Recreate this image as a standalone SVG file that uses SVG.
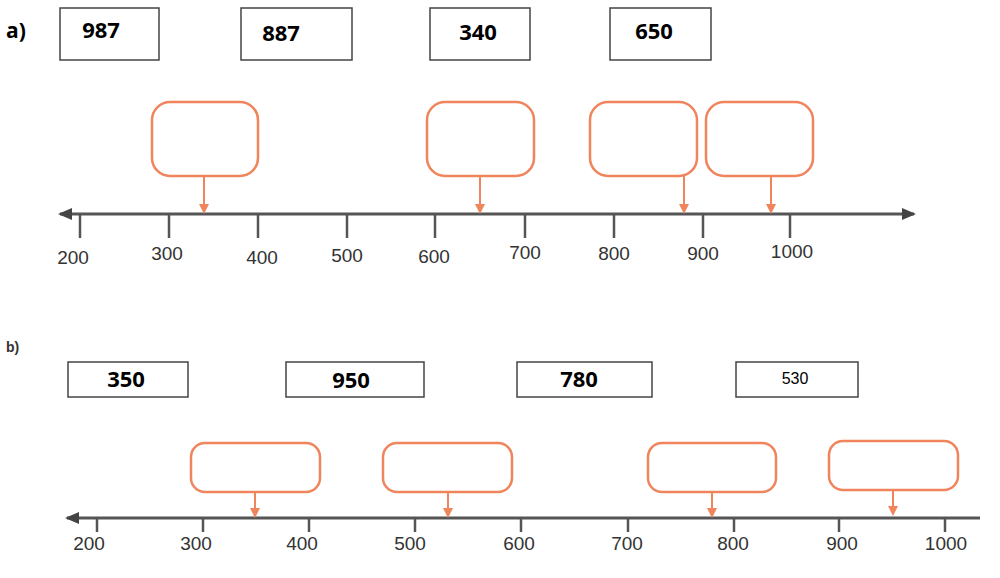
<svg xmlns="http://www.w3.org/2000/svg" width="1000" height="578" viewBox="0 0 1000 578">
<defs>
<style>
.ans{fill:#fff;stroke:#444;stroke-width:1.5}
.at{font-family:"Open Sans","Liberation Sans",sans-serif;font-weight:bold;font-size:22px;fill:#000;text-anchor:middle}
.co{fill:#fff;stroke:#f0845c;stroke-width:2.5}
.ar{stroke:#f0845c;stroke-width:2;marker-end:url(#oa)}
.ax{stroke:#555;stroke-width:3}
.tk{stroke:#555;stroke-width:2.5}
.nl{font-family:"Liberation Sans",sans-serif;font-size:19px;fill:#333;text-anchor:middle}
.lb{font-family:"Open Sans","Liberation Sans",sans-serif;font-weight:bold;font-size:21px;fill:#000}
</style>
<marker id="oa" markerWidth="10" markerHeight="10" refX="8" refY="5" orient="auto" markerUnits="userSpaceOnUse"><path d="M0,0 L10,5 L0,10 z" fill="#f0845c"/></marker>
<marker id="ga" markerWidth="14" markerHeight="12" refX="12" refY="6" orient="auto-start-reverse" markerUnits="userSpaceOnUse"><path d="M0,0 L14,6 L0,12 z" fill="#444"/></marker>
</defs>
<rect width="1000" height="578" fill="#fff"/>
<text class="lb" x="6" y="38">a)</text>
<g id="a-answers">
<g id="a1"><rect class="ans" x="60" y="8" width="99" height="52"/><text class="at" x="101" y="38">987</text></g>
<g id="a2"><rect class="ans" x="241" y="8" width="111" height="52"/><text class="at" x="281" y="41">887</text></g>
<g id="a3"><rect class="ans" x="430" y="8" width="100" height="52"/><text class="at" x="478" y="40">340</text></g>
<g id="a4"><rect class="ans" x="610" y="8" width="101" height="52"/><text class="at" x="654" y="39">650</text></g>
</g>
<g id="a-callouts">
<g id="ac1"><rect class="co" x="152" y="102" width="106" height="74" rx="18"/></g>
<g id="ac2"><rect class="co" x="427" y="102" width="107" height="74" rx="18"/></g>
<g id="ac3"><rect class="co" x="590" y="102" width="107" height="74" rx="18"/></g>
<g id="ac4"><rect class="co" x="706" y="102" width="107" height="74" rx="18"/></g>
</g>
<g id="a-axis">
<line class="ax" x1="60" y1="214" x2="914" y2="214" marker-start="url(#ga)" marker-end="url(#ga)"/>
<g class="tk"><line x1="80" y1="214" x2="80" y2="238"/><line x1="169" y1="214" x2="169" y2="238"/><line x1="258" y1="214" x2="258" y2="238"/><line x1="347" y1="214" x2="347" y2="238"/><line x1="435" y1="214" x2="435" y2="238"/><line x1="525" y1="214" x2="525" y2="238"/><line x1="614" y1="214" x2="614" y2="238"/><line x1="703" y1="214" x2="703" y2="238"/><line x1="790" y1="214" x2="790" y2="238"/></g>
<text class="nl" x="73" y="264">200</text><text class="nl" x="167" y="260">300</text><text class="nl" x="262" y="264">400</text><text class="nl" x="347" y="262">500</text><text class="nl" x="434" y="263">600</text><text class="nl" x="525" y="259">700</text><text class="nl" x="614" y="260">800</text><text class="nl" x="703" y="260">900</text><text class="nl" x="792" y="258">1000</text>
</g>
<g id="a-connectors">
<line class="ar" x1="204" y1="176" x2="204" y2="212"/>
<line class="ar" x1="480" y1="176" x2="480" y2="212"/>
<line class="ar" x1="684" y1="176" x2="684" y2="212"/>
<line class="ar" x1="771" y1="176" x2="771" y2="212"/>
</g>
<text x="6" y="352" style="font-family:'Liberation Sans',sans-serif;font-size:14px;font-weight:bold;fill:#333">b)</text>
<g id="b-answers">
<g id="b1"><rect class="ans" x="68" y="362" width="120" height="35"/><text class="at" x="126" y="387">350</text></g>
<g id="b2"><rect class="ans" x="286" y="362" width="138" height="35"/><text class="at" x="351" y="388">950</text></g>
<g id="b3"><rect class="ans" x="517" y="362" width="135" height="35"/><text class="at" x="579" y="387">780</text></g>
<g id="b4"><rect class="ans" x="736" y="362" width="122" height="35"/><text x="795" y="384" style="font-family:'Liberation Sans',sans-serif;font-size:16px;text-anchor:middle">530</text></g>
</g>
<g id="b-callouts">
<g id="bc1"><rect class="co" x="191" y="443" width="129" height="49" rx="14"/></g>
<g id="bc2"><rect class="co" x="383" y="443" width="129" height="49" rx="14"/></g>
<g id="bc3"><rect class="co" x="648" y="443" width="128" height="49" rx="14"/></g>
<g id="bc4"><rect class="co" x="829" y="441" width="129" height="49" rx="14"/></g>
</g>
<g id="b-axis">
<line class="ax" x1="67" y1="518" x2="980" y2="518" marker-start="url(#ga)"/>
<g class="tk"><line x1="97" y1="518" x2="97" y2="532"/><line x1="203" y1="518" x2="203" y2="532"/><line x1="309" y1="518" x2="309" y2="532"/><line x1="415" y1="518" x2="415" y2="532"/><line x1="521" y1="518" x2="521" y2="532"/><line x1="628" y1="518" x2="628" y2="532"/><line x1="734" y1="518" x2="734" y2="532"/><line x1="839" y1="518" x2="839" y2="532"/><line x1="945" y1="518" x2="945" y2="532"/></g>
<text class="nl" x="89" y="550">200</text><text class="nl" x="196" y="550">300</text><text class="nl" x="302" y="550">400</text><text class="nl" x="410" y="550">500</text><text class="nl" x="519" y="550">600</text><text class="nl" x="627" y="550">700</text><text class="nl" x="733" y="550">800</text><text class="nl" x="842" y="550">900</text><text class="nl" x="946" y="550">1000</text>
</g>
<g id="b-connectors">
<line class="ar" x1="255" y1="492" x2="255" y2="516"/>
<line class="ar" x1="448" y1="492" x2="448" y2="516"/>
<line class="ar" x1="712" y1="492" x2="712" y2="516"/>
<line class="ar" x1="893" y1="490" x2="893" y2="514"/>
</g>
</svg>
